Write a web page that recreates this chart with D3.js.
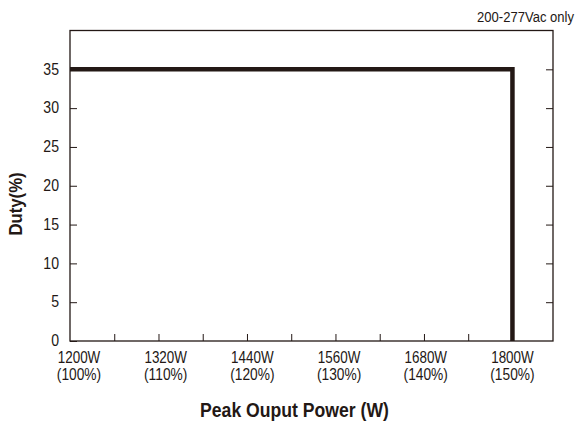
<!DOCTYPE html>
<html><head><meta charset="utf-8">
<script src="https://cdn.jsdelivr.net/npm/d3@7"></script>
<style>body{margin:0;background:#fff}svg{display:block}</style>
</head><body>
<svg id="c" width="576" height="423"></svg>
<script>
const powerTicks = [1200, 1320, 1440, 1560, 1680, 1800];
const percentLabels = ["(100%)", "(110%)", "(120%)", "(130%)", "(140%)", "(150%)"];
const minorTicks = [1260, 1320, 1380, 1440, 1500, 1560, 1620, 1680, 1740, 1800];
const dutyTicks = [0, 5, 10, 15, 20, 25, 30, 35];
const curvePower = [1200, 1800, 1800];
const curveDuty = [35, 35, 0];

const font = '"Liberation Sans",Arial,sans-serif';
const svg = d3.select("#c");
const m = {l: 70, r: 553, t: 30.5, b: 341};
const x = d3.scaleLinear().domain([1200, 1855]).range([m.l, m.r]);
// tick labels in the reference are spread slightly tighter than the ticks
const xLab = d3.scaleLinear().domain([1200, 1800]).range([79, x(1800)]);
const y = d3.scaleLinear().domain([0, 40]).range([m.b, m.t]);
const ink = "#231815";

function label(g, tx, ty, txt, size, sx, anchor, weight, rot) {
  return g.append("text")
    .attr("transform", `translate(${tx},${ty})${rot ? " rotate(" + rot + ")" : ""} scale(${sx},1)`)
    .attr("text-anchor", anchor).attr("font-family", font).attr("font-size", size)
    .attr("font-weight", weight || "normal").attr("fill", ink).text(txt);
}

// frame
svg.append("rect").attr("x", m.l).attr("y", m.t).attr("width", m.r - m.l).attr("height", m.b - m.t)
  .attr("fill", "none").attr("stroke", ink).attr("stroke-width", 1.3);

// left axis ticks (inward)
const yl = svg.append("g").attr("transform", `translate(${m.l},0)`)
  .call(d3.axisRight(y).tickValues(dutyTicks).tickSize(7).tickFormat(""));
yl.select(".domain").remove();
yl.selectAll("line").attr("stroke", ink);
// right axis ticks (inward)
const yr = svg.append("g").attr("transform", `translate(${m.r},0)`)
  .call(d3.axisLeft(y).tickValues(dutyTicks.filter(d => d > 0)).tickSize(7).tickFormat(""));
yr.select(".domain").remove();
yr.selectAll("line").attr("stroke", ink);
// y labels
const gy = svg.append("g");
dutyTicks.forEach(d => label(gy, m.l - 11, y(d) + 5.3, d, 16, 0.88, "end"));

// bottom ticks (inward)
const xb = svg.append("g").attr("transform", `translate(0,${m.b})`)
  .call(d3.axisTop(x).tickValues(minorTicks).tickSize(7).tickFormat(""));
xb.select(".domain").remove();
xb.selectAll("line").attr("stroke", ink);

const gx = svg.append("g");
powerTicks.forEach((d, i) => {
  label(gx, xLab(d), 362.5, d + "W", 16, 0.84, "middle");
  label(gx, xLab(d), 379.5, percentLabels[i], 16, 0.86, "middle");
});

// curve
const line = d3.line().x(d => x(d[0])).y(d => y(d[1]));
svg.append("path").datum(curvePower.map((p, i) => [p, curveDuty[i]]))
  .attr("d", line).attr("fill", "none").attr("stroke", ink).attr("stroke-width", 4.5)
  .attr("stroke-linejoin", "miter").attr("stroke-linecap", "butt");

// titles
label(svg, 294.5, 417, "Peak Ouput Power (W)", 20.5, 0.86, "middle", "bold");
label(svg, 22, 204, "Duty(%)", 18, 0.93, "middle", "bold", -90);
label(svg, 574, 22, "200-277Vac only", 15, 0.87, "end");
</script>
</body></html>
